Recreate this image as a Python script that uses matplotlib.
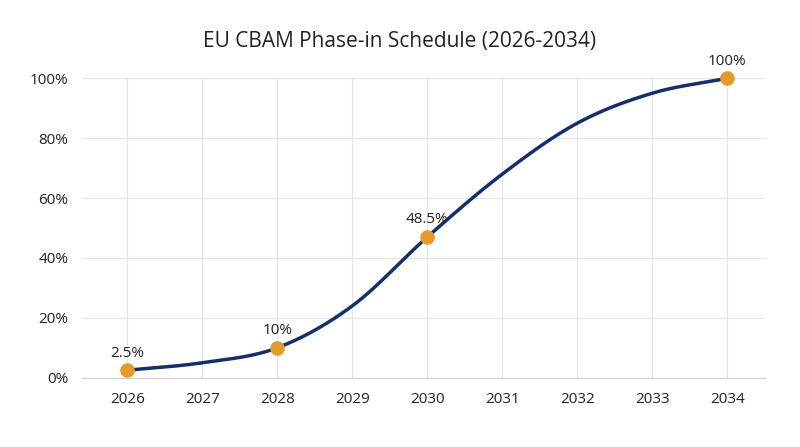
import numpy as np
import matplotlib
matplotlib.use("Agg")
import matplotlib.pyplot as plt

plt.rcParams['font.family'] = ['Open Sans', 'DejaVu Sans']

years = [2026, 2027, 2028, 2029, 2030, 2031, 2032, 2033, 2034]
share = [2.5, 5, 10, 24, 47, 68, 85, 95, 100]
mark_years = [2026, 2028, 2030, 2034]
mark_labels = ["2.5%", "10%", "48.5%", "100%"]

# smooth line through the yearly values (Catmull-Rom)
x = np.array(years, float)
y = np.array(share, float)
px = np.concatenate([[2 * x[0] - x[1]], x, [2 * x[-1] - x[-2]]])
py = np.concatenate([[2 * y[0] - y[1]], y, [2 * y[-1] - y[-2]]])
sx, sy = [], []
t = np.linspace(0, 1, 30)
for i in range(1, len(px) - 2):
    for arr, out in ((px, sx), (py, sy)):
        p0, p1, p2, p3 = arr[i - 1:i + 3]
        out.extend(0.5 * (2 * p1 + (-p0 + p2) * t + (2 * p0 - 5 * p1 + 4 * p2 - p3) * t**2
                          + (-p0 + 3 * p1 - 3 * p2 + p3) * t**3))

fig = plt.figure(figsize=(8, 4.47), dpi=100)
ax = fig.add_axes([0.103, 0.155, 0.853, 0.67])
ax.plot(sx, sy, color="#13306a", lw=2.5, zorder=3, clip_on=False)
my = [share[years.index(v)] for v in mark_years]
ax.scatter(mark_years, my, s=90, color="#e49b2c", zorder=4, clip_on=False)
for xv, yv, lab in zip(mark_years, my, mark_labels):
    ax.annotate(lab, (xv, yv), xytext=(0, 7), textcoords="offset points",
                ha="center", va="bottom", fontsize=11, color="#222222")

ax.set_xlim(2025.4, 2034.5)
ax.set_ylim(0, 100)
ax.set_xticks(years)
ax.set_yticks(range(0, 101, 20))
ax.set_yticklabels([f"{v}%" for v in range(0, 101, 20)])
ax.grid(True, color="#e3e3e3", lw=0.8)
for s in ["top", "right", "left"]:
    ax.spines[s].set_visible(False)
ax.spines["bottom"].set_color("#cccccc")
ax.tick_params(length=0, labelsize=11, colors="#222222", pad=10)
fig.suptitle("EU CBAM Phase-in Schedule (2026-2034)", y=0.93, fontsize=15, color="#222222")
fig.savefig("out.png", dpi=100, facecolor="white")
